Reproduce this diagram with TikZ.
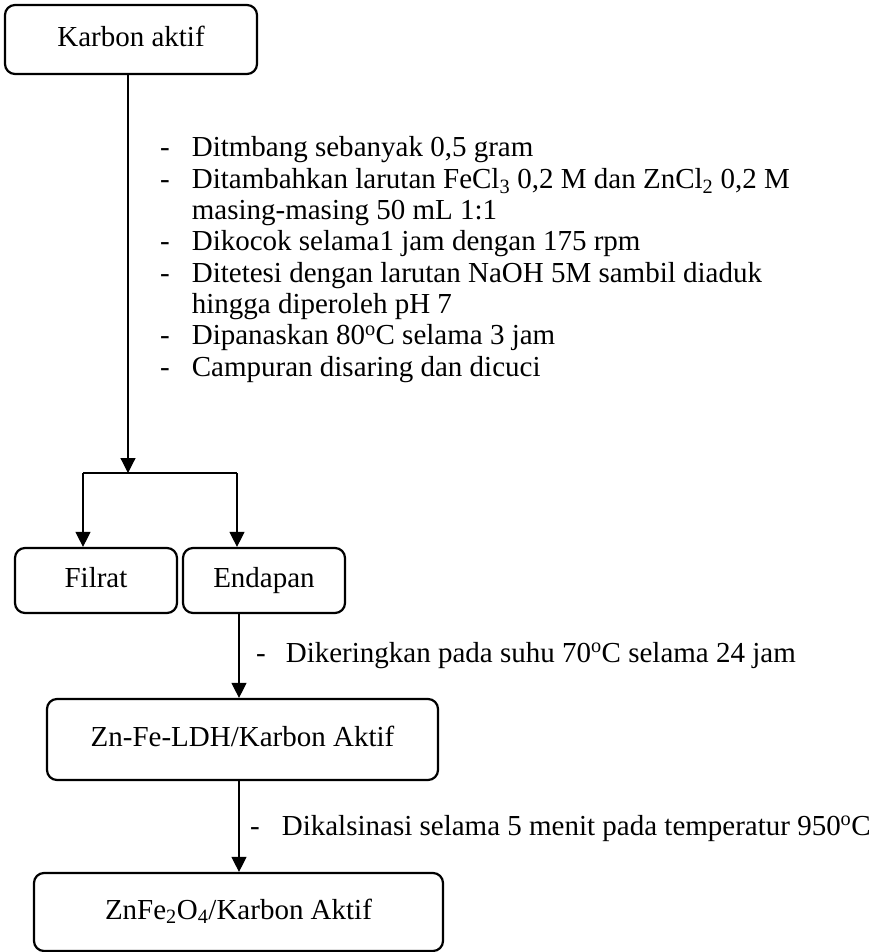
\documentclass[tikz,border=0pt]{standalone}
\usepackage{fontspec}
\setmainfont{Liberation Serif}
\usetikzlibrary{arrows.meta}
\begin{document}
\begin{tikzpicture}[x=1pt,y=-1pt,
		font=\fontsize{29}{31.3}\selectfont,
		box/.style={draw, line width=2.2pt, rounded corners=10pt, inner sep=0pt, align=center, text height=20pt, text depth=6pt},
		arr/.style={line width=1.2pt, -{Triangle[width=15pt,length=15pt]}},
		lbl/.style={anchor=base west, inner sep=0pt}]
		\useasboundingbox (0,0) rectangle (880,952);
		\node[box, minimum width=252pt, minimum height=69pt] (karbon) at (131,39.5) {Karbon aktif};
		\node[box, minimum width=162pt, minimum height=65pt] (filrat) at (96,580.5) {Filrat};
		\node[box, minimum width=162pt, minimum height=65pt] (endapan) at (264,580.5) {Endapan};
		\node[box, minimum width=391pt, minimum height=81pt] (ldh) at (242.5,739.5) {Zn-Fe-LDH/Karbon Aktif};
		\node[box, minimum width=409pt, minimum height=78pt] (ferit) at (238.5,912) {ZnFe\textsubscript{2}O\textsubscript{4}/Karbon Aktif};
		\node[lbl] (proses) at (160,157) {\begin{tabular}[t]{@{}l@{\hspace{22pt}}l@{}}
				- & Ditmbang sebanyak 0,5 gram\\
				- & Ditambahkan larutan FeCl\textsubscript{3} 0,2 M dan ZnCl\textsubscript{2} 0,2 M\\
				  & masing-masing 50 mL 1:1\\
				- & Dikocok selama1 jam dengan 175 rpm\\
				- & Ditetesi dengan larutan NaOH 5M sambil diaduk\\
				  & hingga diperoleh pH 7\\
				- & Dipanaskan 80\textsuperscript{o}C selama 3 jam\\
				- & Campuran disaring dan dicuci
			\end{tabular}};
		\node[lbl] (kering) at (256,662) {-\hspace{20pt}Dikeringkan pada suhu 70\textsuperscript{o}C selama 24 jam};
		\node[lbl] (kalsinasi) at (250,835) {-\hspace{22pt}Dikalsinasi selama 5 menit pada temperatur 950\textsuperscript{o}C};
		\coordinate (split) at (128,473);
		\coordinate (bl) at (83,473);
		\coordinate (br) at (237,473);
		\coordinate (axis) at (239,0);
		\draw [arr] (karbon.south -| split)--(split);
		\draw [line width=1.2pt] (bl)--(br);
		\draw [arr] (bl)--(bl |- filrat.north);
		\draw [arr] (br)--(br |- endapan.north);
		\draw [arr] (endapan.south -| axis)--(ldh.north -| axis);
		\draw [arr] (ldh.south -| axis)--(ferit.north -| axis);
	\end{tikzpicture}
\end{document}
